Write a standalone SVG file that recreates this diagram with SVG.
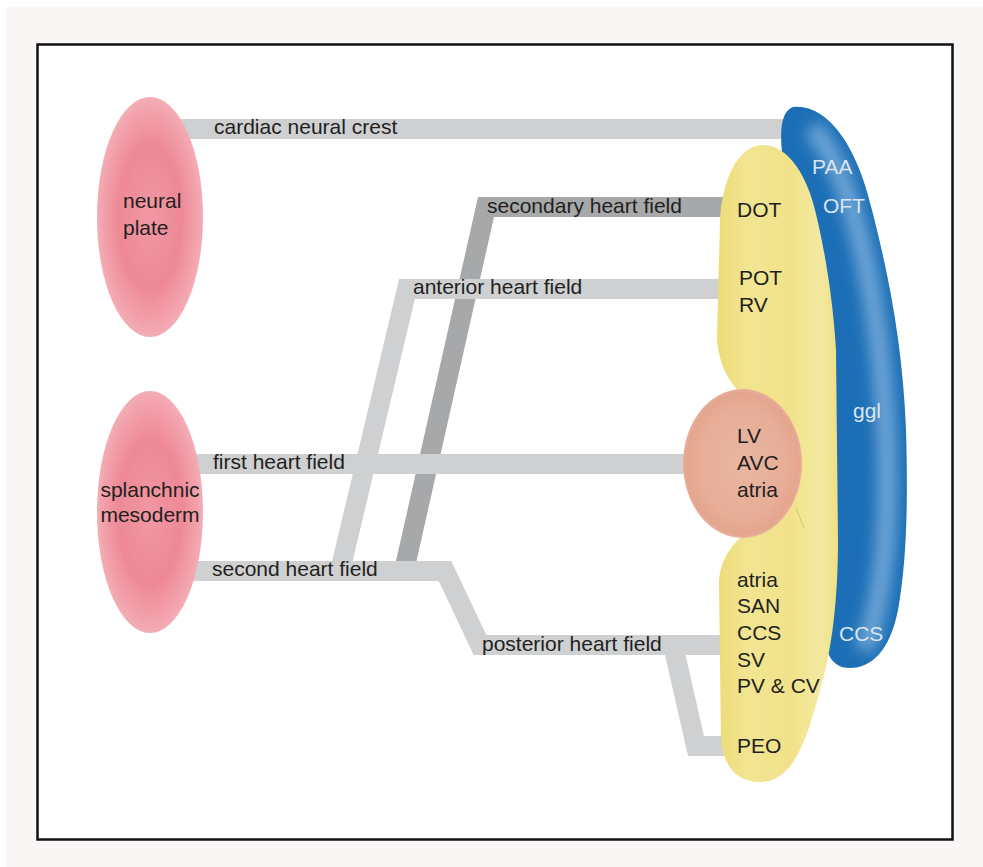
<svg xmlns="http://www.w3.org/2000/svg" width="983" height="867" viewBox="0 0 983 867">
<style>
.lbl{font-family:"Liberation Sans",Arial,sans-serif;font-size:21px;fill:#231f20}
.wt{fill:#dbe5f0}
.bar{fill:none;stroke:#cfd0d2;stroke-width:20;stroke-linejoin:miter;stroke-linecap:butt}
.bar-dark{fill:none;stroke:#a7a8aa;stroke-width:20;stroke-linejoin:miter;stroke-linecap:butt}
</style>
<defs>
<radialGradient id="pink" cx="50%" cy="50%" r="50%">
<stop offset="0" stop-color="#f197a3"/>
<stop offset="0.6" stop-color="#ee8997"/>
<stop offset="0.88" stop-color="#f2a1ab"/>
<stop offset="1" stop-color="#f4adb5"/>
</radialGradient>
<radialGradient id="salmon" cx="50%" cy="50%" r="50%">
<stop offset="0" stop-color="#e9b6a2"/>
<stop offset="0.75" stop-color="#e7ad97"/>
<stop offset="0.95" stop-color="#e5a58e"/>
<stop offset="1" stop-color="#e8b09b"/>
</radialGradient>
<linearGradient id="yellow" x1="0" y1="0" x2="1" y2="0">
<stop offset="0" stop-color="#eddb76"/>
<stop offset="0.25" stop-color="#f2e592"/>
<stop offset="0.6" stop-color="#f1e28a"/>
<stop offset="0.85" stop-color="#f4e9a0"/>
<stop offset="1" stop-color="#efdf84"/>
</linearGradient>
<clipPath id="blueClip">
<path d="M 793,107 C 830,104 858,150 872,210 C 890,280 903,350 906,430 C 908,500 907,560 898,610 C 890,650 872,668 850,668 C 830,668 823,650 826,625 L 800,250 C 785,180 770,115 793,107 Z"/>
</clipPath>
<filter id="blur8" x="-50%" y="-50%" width="200%" height="200%">
<feGaussianBlur stdDeviation="7"/>
</filter>
</defs>

<rect x="6" y="7" width="977" height="860" fill="#faf6f5"/>
<rect x="37.5" y="44.5" width="915" height="795" fill="#ffffff" stroke="#111111" stroke-width="2.5"/>

<g id="connectors">
<polyline class="bar-dark" points="404,571 486,207 732,207"/>
<polyline class="bar" points="340,571 407,289 732,289"/>
<polyline class="bar" points="673,645 696,746 732,746"/>
<polyline class="bar" points="170,129 800,129"/>
<polyline class="bar" points="180,464 700,464"/>
<polyline class="bar" points="180,571 445,571 480,645 732,645"/>
<text class="lbl" x="214" y="134">cardiac neural crest</text>
<text class="lbl" x="487" y="213">secondary heart field</text>
<text class="lbl" x="413" y="294">anterior heart field</text>
<text class="lbl" x="213" y="469">first heart field</text>
<text class="lbl" x="212" y="576">second heart field</text>
<text class="lbl" x="482" y="651">posterior heart field</text>
</g>

<g id="neural-crest-derivatives">
<path d="M 793,107 C 830,104 858,150 872,210 C 890,280 903,350 906,430 C 908,500 907,560 898,610 C 890,650 872,668 850,668 C 830,668 823,650 826,625 L 800,250 C 785,180 770,115 793,107 Z" fill="#1c6fb6"/>
<g clip-path="url(#blueClip)">
<path d="M 812,128 C 852,170 880,300 886,430 C 890,520 884,600 864,650" fill="none" stroke="#6aa3d5" stroke-width="20" filter="url(#blur8)"/>
</g>
<text class="lbl wt" x="812" y="174">PAA</text>
<text class="lbl wt" x="823" y="213">OFT</text>
<text class="lbl wt" x="853" y="418">ggl</text>
<text class="lbl wt" x="839" y="641">CCS</text>
</g>

<g id="heart-tube">
<path d="M 763,145 C 790,145 808,180 815,210 C 825,250 833,300 836,350 L 838,540 C 838,600 832,650 820,690 C 808,735 795,782 760,782 C 735,782 724,765 721,740 L 719,585 C 719,565 728,545 750,530 L 748,398 C 732,388 720,370 717,340 L 720,220 C 722,180 738,145 763,145 Z" fill="url(#yellow)"/>
<path d="M 796,508 C 799,515 801,521 804,528" fill="none" stroke="#d8c65c" stroke-width="1"/>
<text class="lbl" x="737" y="217">DOT</text>
<text class="lbl" x="739" y="285">POT</text>
<text class="lbl" x="739" y="312">RV</text>
<text class="lbl" x="737" y="587">atria</text>
<text class="lbl" x="737" y="613">SAN</text>
<text class="lbl" x="737" y="640">CCS</text>
<text class="lbl" x="737" y="667">SV</text>
<text class="lbl" x="737" y="693">PV &amp; CV</text>
<text class="lbl" x="737" y="753">PEO</text>
</g>

<g id="left-ventricle">
<ellipse cx="742.5" cy="463.5" rx="59.5" ry="74.5" fill="url(#salmon)"/>
<text class="lbl" x="737" y="443">LV</text>
<text class="lbl" x="737" y="470">AVC</text>
<text class="lbl" x="737" y="497">atria</text>
</g>

<g id="neural-plate">
<ellipse cx="150" cy="217" rx="53" ry="120" fill="url(#pink)"/>
<text class="lbl" x="123" y="208">neural</text>
<text class="lbl" x="123" y="235">plate</text>
</g>

<g id="splanchnic-mesoderm">
<ellipse cx="150" cy="512" rx="53" ry="121" fill="url(#pink)"/>
<text class="lbl" x="150" y="497" text-anchor="middle">splanchnic</text>
<text class="lbl" x="150" y="522" text-anchor="middle">mesoderm</text>
</g>
</svg>
